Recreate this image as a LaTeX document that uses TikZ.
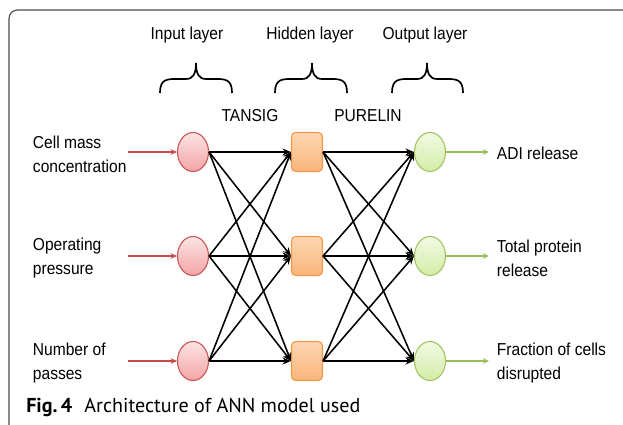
\documentclass[tikz,border=0pt]{standalone}
\usepackage{fontspec}
\setmainfont{Liberation Sans}[FakeStretch=0.9]
\newfontfamily\capfont{PT Sans}
\usetikzlibrary{arrows.meta,shapes.geometric}

\definecolor{inline}{HTML}{C9595A}
\definecolor{intop}{HTML}{FCE3E3}
\definecolor{inbot}{HTML}{F4A5A6}
\definecolor{hidline}{HTML}{F39A4A}
\definecolor{hidtop}{HTML}{FDD6B2}
\definecolor{hidbot}{HTML}{FBB57A}
\definecolor{outline}{HTML}{A6C465}
\definecolor{outtop}{HTML}{F3FAE4}
\definecolor{outbot}{HTML}{D3ECA6}
\definecolor{redarrow}{HTML}{C9494A}
\definecolor{greenarrow}{HTML}{98BD5A}

\begin{document}
\begin{tikzpicture}[x=0.025cm, y=-0.025cm,
  every node/.style={font=\fontsize{12.3}{17}\selectfont, align=left},
  inp/.style={ellipse, draw=inline, line width=0.8pt, top color=intop, bottom color=inbot, minimum width=31*0.025cm, minimum height=39*0.025cm, inner sep=0pt},
  hid/.style={rectangle, rounded corners=3pt, draw=hidline, line width=0.8pt, top color=hidtop, bottom color=hidbot, minimum width=31*0.025cm, minimum height=39*0.025cm, inner sep=0pt},
  outp/.style={ellipse, draw=outline, line width=0.8pt, top color=outtop, bottom color=outbot, minimum width=31*0.025cm, minimum height=39*0.025cm, inner sep=0pt},
  link/.style={line width=1.1pt, -{Stealth[length=6pt, width=5pt]}},
  feed/.style={line width=0.8pt, draw=redarrow, -{Stealth[length=4.5pt, width=4pt]}},
  give/.style={line width=0.8pt, draw=greenarrow, -{Stealth[length=4.5pt, width=4pt]}},
  brace/.style={line width=1.2pt}]
  \useasboundingbox (0,0) rectangle (623,425);
  % frame
  \draw[black!70, line width=0.8pt, rounded corners=6pt] (9,425) -- (9,10) -- (623,10);

  % layer titles
  \node (tin) at (187,35) {Input layer};
  \node (thid) at (310,35) {Hidden layer};
  \node (tout) at (425,35) {Output layer};
  \foreach \a/\c/\b in {160/196/232, 275/312/347, 392/427/463}
    \draw[brace] (\a,93) .. controls (\a,82) and (\a+4,79) .. (\a+14,79) -- (\c-10,79)
      .. controls (\c-3,79) and (\c,74) .. (\c,63) .. controls (\c,74) and (\c+3,79) .. (\c+10,79)
      -- (\b-14,79) .. controls (\b-4,79) and (\b,82) .. (\b,93);
  \node (tansig) at (250,116) {TANSIG};
  \node (purelin) at (368,116) {PURELIN};

  % neurons
  \foreach \n/\y in {1/152, 2/256, 3/361} {
    \node[inp] (in\n) at (193,\y) {};
    \node[hid] (hid\n) at (307,\y) {};
    \node[outp] (out\n) at (430,\y) {};
    \coordinate (src\n) at (128,\y);
    \coordinate (dst\n) at (489,\y);
  }
  \foreach \i in {1,2,3}
    \foreach \j in {1,2,3} {
      \draw[link] (in\i.east) -- (hid\j.west);
      \draw[link] (hid\i.east) -- (out\j.west);
    }

  % inputs and outputs
  \node[anchor=west] (lab1) at (28,154) {Cell mass\\concentration};
  \node[anchor=west] (lab2) at (28,258) {Operating\\pressure};
  \node[anchor=west] (lab3) at (28,363) {Number of\\passes};
  \node[anchor=west] (res1) at (492,153) {ADI release};
  \node[anchor=west] (res2) at (492,258) {Total protein\\release};
  \node[anchor=west] (res3) at (492,363) {Fraction of cells\\disrupted};
  \foreach \n in {1,2,3} {
    \draw[feed] (src\n) -- (in\n.west);
    \draw[give] (out\n.east) -- (dst\n);
  }

  % caption
  \node[anchor=base west, inner sep=0pt, font=\capfont\fontsize{14.3}{16}\selectfont] (cap) at (26,412)
    {\textbf{Fig.\,4}\hspace{0.6em}Architecture of ANN model used};
\end{tikzpicture}
\end{document}
